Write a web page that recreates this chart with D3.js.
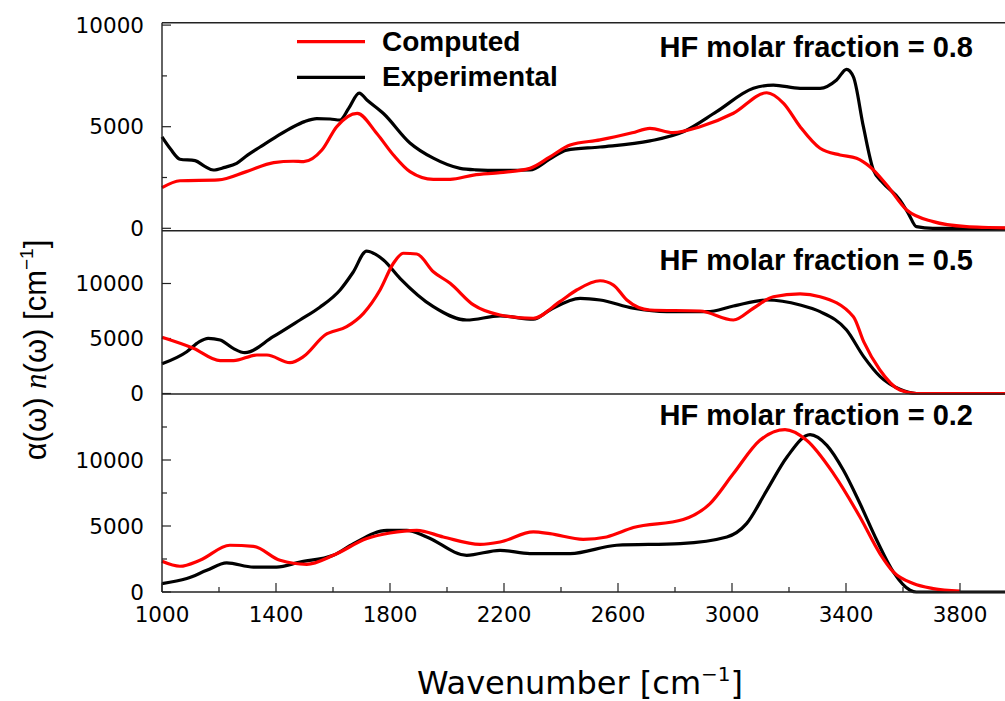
<!DOCTYPE html>
<html>
<head>
<meta charset="utf-8">
<script src="https://cdn.jsdelivr.net/npm/d3@7"></script>
<style>
  body { margin: 0; background: #fff; }
  svg { display: block; }
</style>
</head>
<body>
<script>
// wavenumber [cm-1], absorbance values
var comp08 = [[1000,2000],[1063,2340],[1198,2380],[1296,2790],[1392,3230],[1460,3300],[1497,3280],[1561,3850],[1613,5000],[1685,5660],[1753,4680],[1812,3610],[1870,2790],[1952,2410],[2011,2410],[2093,2620],[2186,2740],[2291,2950],[2360,3500],[2432,4100],[2537,4350],[2650,4700],[2712,4920],[2793,4710],[2888,5000],[3005,5660],[3122,6670],[3181,6150],[3239,5000],[3309,3940],[3379,3610],[3437,3450],[3484,3030],[3543,2130],[3613,900],[3706,330],[3823,80],[3900,40],[4000,0]];
var expt08 = [[1000,4500],[1030,3900],[1063,3400],[1116,3330],[1150,3050],[1180,2870],[1220,3000],[1262,3200],[1300,3600],[1344,4000],[1400,4500],[1461,5000],[1500,5250],[1543,5400],[1590,5380],[1625,5330],[1655,5900],[1692,6650],[1720,6300],[1777,5650],[1870,4200],[1952,3450],[2046,2950],[2100,2880],[2186,2850],[2291,2870],[2360,3400],[2420,3850],[2537,4000],[2712,4300],[2829,4750],[2946,5740],[3075,6890],[3145,7050],[3239,6890],[3309,6890],[3367,7300],[3402,7820],[3426,7450],[3461,5000],[3496,2870],[3530,2230],[3589,1400],[3620,700],[3647,80],[3705,0],[4000,0]];

var comp05 = [[1000,5110],[1110,4110],[1204,2980],[1251,2980],[1333,3500],[1368,3500],[1449,2800],[1496,3350],[1572,5320],[1648,6070],[1707,7290],[1765,9410],[1812,11840],[1847,12750],[1894,12680],[1952,11070],[2011,10020],[2093,8050],[2186,7140],[2303,6840],[2396,8350],[2455,9410],[2537,10250],[2584,9860],[2631,8500],[2712,7590],[2888,7500],[3005,6680],[3075,7750],[3145,8800],[3239,9050],[3309,8800],[3426,6980],[3462,4710],[3519,2140],[3589,320],[3647,0],[4000,0]];
var expt05 = [[1000,2700],[1087,3800],[1130,4700],[1162,5020],[1204,4860],[1250,4100],[1291,3710],[1390,5160],[1484,6680],[1554,7840],[1625,9410],[1670,11000],[1718,12950],[1777,12140],[1835,10470],[1952,7890],[2069,6680],[2186,7050],[2303,6750],[2361,7590],[2467,8650],[2537,8500],[2654,7750],[2771,7440],[2912,7440],[3005,7950],[3122,8500],[3239,8050],[3309,7440],[3402,5770],[3462,3350],[3520,1530],[3589,380],[3647,0],[4000,0]];

var comp02 = [[1000,2330],[1063,1950],[1133,2400],[1238,3540],[1321,3460],[1414,2400],[1508,2100],[1601,2780],[1719,4050],[1800,4470],[1894,4670],[1987,4170],[2116,3610],[2186,3790],[2303,4550],[2361,4420],[2478,3990],[2560,4170],[2654,4880],[2829,5490],[2923,6700],[3005,8970],[3098,11490],[3186,12300],[3262,11490],[3356,8970],[3449,5680],[3519,2910],[3566,1520],[3636,640],[3706,260],[3800,60]];
var expt02 = [[1000,640],[1087,1020],[1157,1640],[1227,2200],[1321,1890],[1402,1890],[1484,2270],[1601,2780],[1672,3670],[1789,4670],[1859,4670],[1929,4170],[2069,2780],[2186,3160],[2291,2910],[2432,2910],[2595,3540],[2818,3670],[2982,4170],[3051,5180],[3122,7700],[3193,10230],[3274,11920],[3333,11110],[3391,9220],[3449,6700],[3508,3920],[3566,1520],[3625,130],[3647,0],[4000,0]];

var panelTitles = ['HF molar fraction = 0.8', 'HF molar fraction = 0.5', 'HF molar fraction = 0.2'];
var seriesNames = ['Computed', 'Experimental'];
var seriesColors = ['#ff0000', '#000000'];
var xTicks = [1000, 1400, 1800, 2200, 2600, 3000, 3400, 3800];
var xMinorTicks = [1200, 1600, 2000, 2400, 2800, 3200, 3600];
var yTicks = [0, 5000, 10000];

var width = 1005, height = 701;
var left = 162;

var svg = d3.select('body').append('svg')
  .attr('width', width)
  .attr('height', height);

var x = d3.scaleLinear().domain([1000, 4000]).range([left, 1017]);

// panel layout: y range of each frame and the value span inside it
var panels = [
  { top: 22.7, bottom: 230.7, lo: -118, hi: 10118, minor: [2500, 7500], comp: comp08, expt: expt08, title: panelTitles[0], titleY: 57 },
  { top: 230.7, bottom: 394, lo: -45, hi: 14800, minor: [], comp: comp05, expt: expt05, title: panelTitles[1], titleY: 270 },
  { top: 394, bottom: 592, lo: 0, hi: 15000, minor: [2500, 7500, 12500], comp: comp02, expt: expt02, title: panelTitles[2], titleY: 425 }
];

var frameColor = '#222';

panels.forEach(function(p) {
  var y = d3.scaleLinear().domain([p.lo, p.hi]).range([p.bottom, p.top]);
  var g = svg.append('g');

  // horizontal frame lines
  g.append('line')
    .attr('x1', left).attr('x2', width)
    .attr('y1', p.top).attr('y2', p.top)
    .attr('stroke', frameColor).attr('stroke-width', 1.4);

  // inward ticks on the left
  g.selectAll('.ymajor').data(yTicks).enter().append('line')
    .attr('x1', left).attr('x2', left + 9)
    .attr('y1', function(d) { return y(d); })
    .attr('y2', function(d) { return y(d); })
    .attr('stroke', frameColor).attr('stroke-width', 1.2);
  g.selectAll('.yminor').data(p.minor).enter().append('line')
    .attr('x1', left).attr('x2', left + 5)
    .attr('y1', function(d) { return y(d); })
    .attr('y2', function(d) { return y(d); })
    .attr('stroke', frameColor).attr('stroke-width', 1.2);

  g.selectAll('.ylab').data(yTicks).enter().append('text')
    .attr('x', 144)
    .attr('y', function(d) { return y(d); })
    .attr('dy', '0.36em')
    .attr('text-anchor', 'end')
    .attr('font-family', 'DejaVu Sans')
    .attr('font-size', 21.5)
    .text(function(d) { return d; });

  var line = d3.line()
    .x(function(d) { return x(d[0]); })
    .y(function(d) { return y(d[1]); })
    .curve(d3.curveMonotoneX);

  g.append('path').datum(p.expt)
    .attr('d', line)
    .attr('fill', 'none')
    .attr('stroke', seriesColors[1])
    .attr('stroke-width', 3.2)
    .attr('stroke-linejoin', 'round');
  g.append('path').datum(p.comp)
    .attr('d', line)
    .attr('fill', 'none')
    .attr('stroke', seriesColors[0])
    .attr('stroke-width', 3.2)
    .attr('stroke-linejoin', 'round');

  g.append('text')
    .attr('x', 973)
    .attr('y', p.titleY)
    .attr('text-anchor', 'end')
    .attr('font-family', 'Liberation Sans, Arial, sans-serif')
    .attr('font-weight', 'bold')
    .attr('font-size', 29)
    .text(p.title);
});

// left axis line and bottom axis
svg.append('line')
  .attr('x1', left).attr('x2', left)
  .attr('y1', 22.7).attr('y2', 592)
  .attr('stroke', frameColor).attr('stroke-width', 1.4);
svg.append('line')
  .attr('x1', left).attr('x2', width)
  .attr('y1', 592).attr('y2', 592)
  .attr('stroke', frameColor).attr('stroke-width', 1.4);

svg.selectAll('.xmajor').data(xTicks).enter().append('line')
  .attr('x1', function(d) { return x(d); })
  .attr('x2', function(d) { return x(d); })
  .attr('y1', 592).attr('y2', 583)
  .attr('stroke', frameColor).attr('stroke-width', 1.2);
svg.selectAll('.xminor').data(xMinorTicks).enter().append('line')
  .attr('x1', function(d) { return x(d); })
  .attr('x2', function(d) { return x(d); })
  .attr('y1', 592).attr('y2', 587)
  .attr('stroke', frameColor).attr('stroke-width', 1.2);
svg.selectAll('.xlab').data(xTicks).enter().append('text')
  .attr('x', function(d) { return x(d); })
  .attr('y', 622)
  .attr('text-anchor', 'middle')
  .attr('font-family', 'DejaVu Sans')
  .attr('font-size', 21.5)
  .text(function(d) { return d; });

// legend
var legendY = [41.7, 77.3];
seriesNames.forEach(function(name, i) {
  svg.append('line')
    .attr('x1', 297).attr('x2', 365)
    .attr('y1', legendY[i]).attr('y2', legendY[i])
    .attr('stroke', seriesColors[i])
    .attr('stroke-width', 3.2);
  svg.append('text')
    .attr('x', 382)
    .attr('y', legendY[i] + 9)
    .attr('font-family', 'Liberation Sans, Arial, sans-serif')
    .attr('font-weight', 'bold')
    .attr('font-size', 28)
    .text(name);
});

// axis titles
var xt = svg.append('text')
  .attr('x', 580)
  .attr('y', 694)
  .attr('text-anchor', 'middle')
  .attr('font-family', 'DejaVu Sans')
  .attr('font-size', 32);
xt.append('tspan').text('Wavenumber [cm');
xt.append('tspan').attr('dy', -13).attr('font-size', 20).text('\u22121');
xt.append('tspan').attr('dy', 13).text(']');

var yt = svg.append('text')
  .attr('transform', 'translate(46,350) rotate(-90)')
  .attr('text-anchor', 'middle')
  .attr('font-family', 'Liberation Sans, Arial, sans-serif')
  .attr('font-size', 31);
yt.append('tspan').text('\u03b1(\u03c9) ');
yt.append('tspan').attr('font-family', 'Liberation Serif').attr('font-style', 'italic').text('n');
yt.append('tspan').text('(\u03c9) [cm');
yt.append('tspan').attr('dy', -13).attr('font-size', 19).text('\u22121');
yt.append('tspan').attr('dy', 13).text(']');
</script>
</body>
</html>
